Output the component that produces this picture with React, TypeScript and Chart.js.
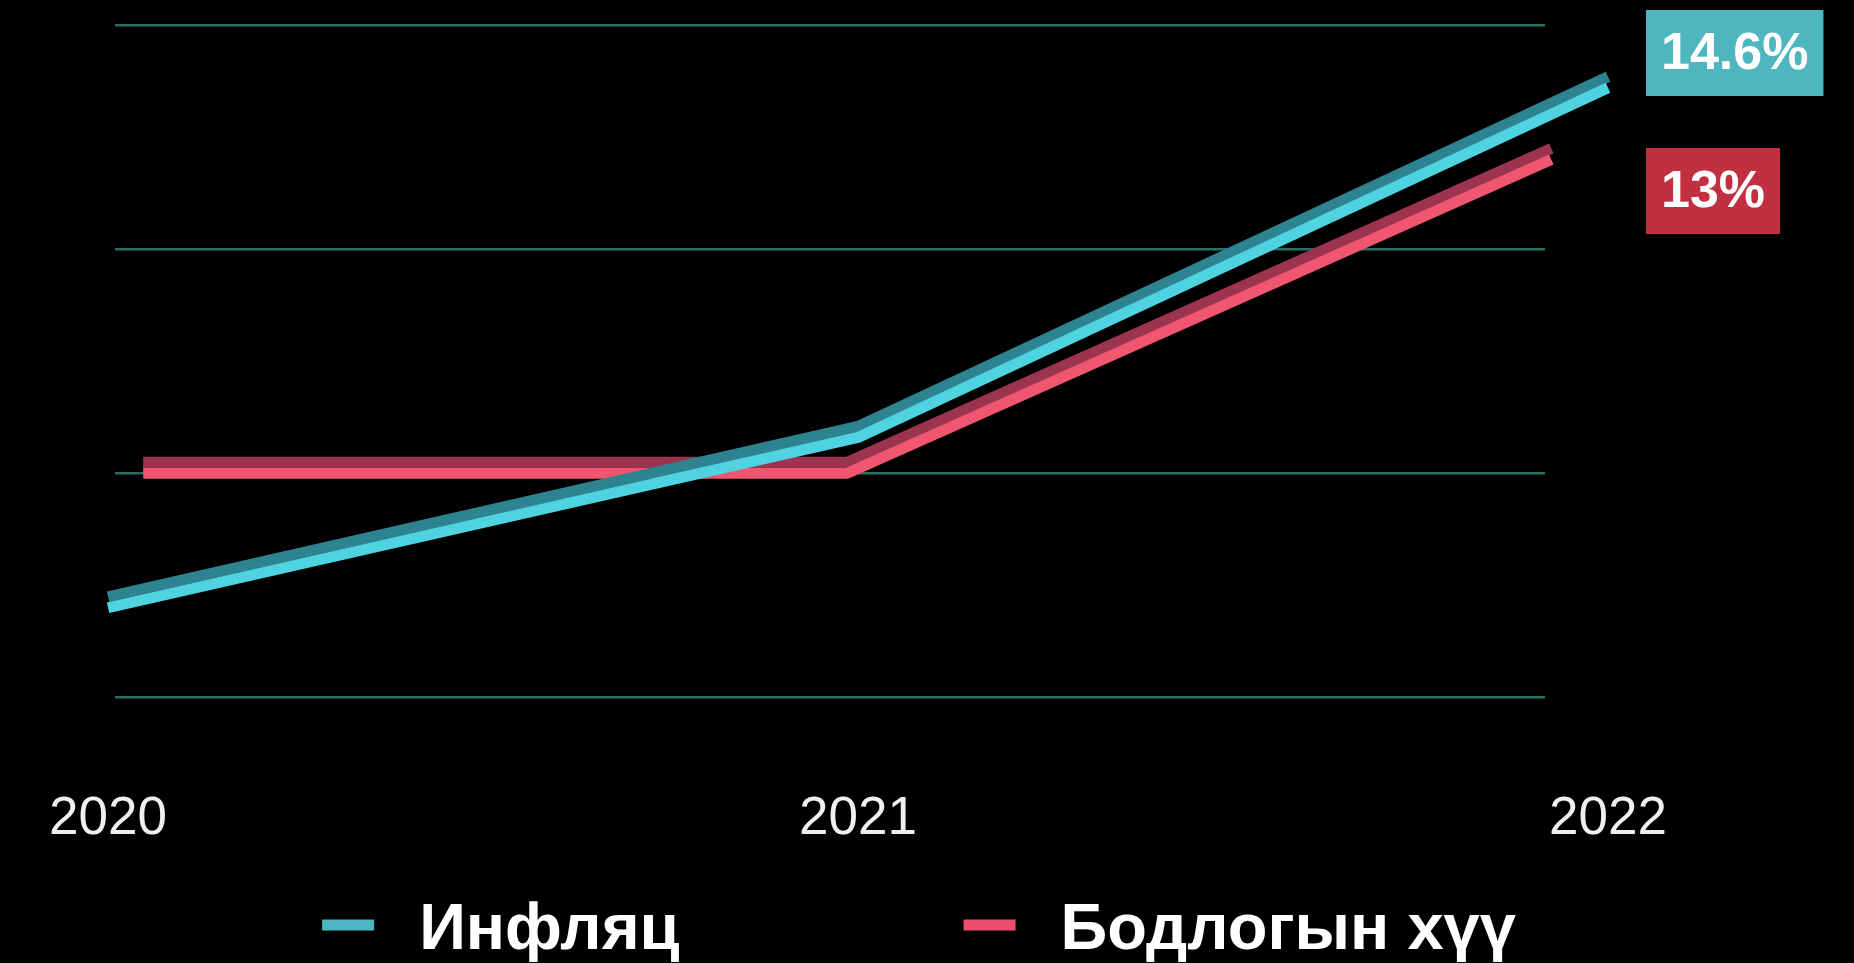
import React, { useEffect, useRef } from "react";
import { Chart, registerables } from "chart.js";

Chart.register(...registerables);

// ---- data ----
const years = [2020, 2021, 2022];
const inflation = [3.0, 6.8, 14.6];
const policyRate = [6, 6, 13];
const gridValues = [1, 6, 11, 16];
const seriesNames = ["Инфляц", "Бодлогын хүү"];

const FONT = '"Liberation Sans", Arial, Helvetica, sans-serif';

// draws each line as a "3D tube": bright front face + darker top face (shadow)
const tubePlugin = {
  id: "tube",
  beforeDatasetDraw(chart: any, args: any) {
    const ds: any = chart.data.datasets[args.index];
    const ctx = chart.ctx;
    ctx.save();
    ctx.shadowColor = ds.topColor;
    ctx.shadowOffsetX = 0;
    ctx.shadowOffsetY = -11;
    ctx.shadowBlur = 0;
  },
  afterDatasetDraw(chart: any) {
    chart.ctx.restore();
  },
};

// value boxes on the right (last value of each series)
const valueBoxPlugin = {
  id: "valueBoxes",
  afterDraw(chart: any, _args: any, opts: any) {
    const ctx = chart.ctx;
    ctx.save();
    ctx.font = `bold ${opts.fontSize}px ${FONT}`;
    chart.data.datasets.forEach((ds: any, i: number) => {
      const last = ds.data[ds.data.length - 1].y;
      const text = `${last}%`;
      const w = ctx.measureText(text).width + opts.padX * 2;
      const top = opts.tops[i];
      ctx.fillStyle = ds.boxColor;
      ctx.fillRect(opts.left, top, w, opts.height);
      ctx.fillStyle = "#ffffff";
      ctx.textBaseline = "middle";
      ctx.textAlign = "left";
      ctx.fillText(text, opts.left + opts.padX, top + opts.height / 2 + 2);
    });
    ctx.restore();
  },
};

// custom bottom legend
const bottomLegendPlugin = {
  id: "bottomLegend",
  afterDraw(chart: any, _args: any, opts: any) {
    const ctx = chart.ctx;
    ctx.save();
    ctx.font = `bold ${opts.fontSize}px ${FONT}`;
    const items = chart.data.datasets.map((ds: any) => ({
      text: ds.label,
      color: ds.legendColor,
      w: ctx.measureText(ds.label).width,
    }));
    const total =
      items.reduce((s: number, it: any) => s + opts.boxWidth + opts.textGap + it.w, 0) +
      opts.itemGap * (items.length - 1);
    let x = (chart.width - total) / 2 + opts.shiftX;
    const base = chart.height - opts.baselineFromBottom;
    items.forEach((it: any) => {
      ctx.fillStyle = it.color;
      ctx.fillRect(x, base - opts.boxOffset - opts.boxHeight / 2, opts.boxWidth, opts.boxHeight);
      x += opts.boxWidth + opts.textGap;
      ctx.fillStyle = "#ffffff";
      ctx.textBaseline = "alphabetic";
      ctx.textAlign = "left";
      ctx.fillText(it.text, x, base);
      x += it.w + opts.itemGap;
    });
    ctx.restore();
  },
};

export default function App() {
  const ref = useRef<HTMLCanvasElement>(null);

  useEffect(() => {
    document.body.style.margin = "0";
    document.body.style.background = "#000";
    document.documentElement.style.background = "#000";

    const toPoints = (vals: number[]) => years.map((yr, i) => ({ x: yr, y: vals[i] }));

    const chart = new Chart(ref.current as HTMLCanvasElement, {
      type: "line",
      data: {
        datasets: [
          {
            label: seriesNames[0],
            data: toPoints(inflation),
            xAxisID: "x",
            borderColor: "#4fd3e1",
            topColor: "#2d8390",
            boxColor: "#4eb6bf",
            legendColor: "#4db6c0",
            borderWidth: 11,
            pointRadius: 0,
            tension: 0,
            clip: false,
            borderJoinStyle: "round",
            borderCapStyle: "butt",
          } as any,
          {
            label: seriesNames[1],
            data: toPoints(policyRate),
            xAxisID: "xr",
            borderColor: "#f0566f",
            topColor: "#9c3450",
            boxColor: "#c22f40",
            legendColor: "#ec4f6e",
            borderWidth: 11,
            pointRadius: 0,
            tension: 0,
            clip: false,
            borderJoinStyle: "round",
            borderCapStyle: "butt",
          } as any,
        ],
      },
      options: {
        responsive: false,
        devicePixelRatio: 1,
        animation: false,
        events: [],
        layout: { padding: { left: 115, right: 309, top: 25, bottom: 105 } },
        plugins: {
          legend: { display: false },
          tooltip: { enabled: false },
          valueBoxes: { left: 1646, tops: [10, 148], height: 86, padX: 15, fontSize: 52 },
          bottomLegend: {
            fontSize: 65,
            boxWidth: 52,
            boxHeight: 11,
            textGap: 45,
            itemGap: 284,
            baselineFromBottom: 14,
            boxOffset: 24,
            shiftX: -8,
          },
        } as any,
        scales: {
          x: {
            type: "linear",
            position: "bottom",
            min: 2020.0093,
            max: 2021.916,
            afterBuildTicks: (axis: any) => {
              axis.ticks = years.map((v) => ({ value: v }));
            },
            grid: { display: false, drawTicks: true, tickLength: 83 },
            border: { display: false },
            ticks: {
              autoSkip: false,
              maxRotation: 0,
              padding: 7,
              color: "#f0f0f0",
              font: { family: FONT, size: 53, weight: "normal" },
              callback: (v: any) => String(v),
            },
          },
          xr: {
            type: "linear",
            display: false,
            min: 2019.96,
            max: 2021.991,
          },
          y: {
            type: "linear",
            min: 1,
            max: 16,
            afterBuildTicks: (axis: any) => {
              axis.ticks = gridValues.map((v) => ({ value: v }));
            },
            grid: { color: "#2b6d69", lineWidth: 2.5, drawTicks: false },
            border: { display: false },
            ticks: { display: false },
          },
        },
      },
      plugins: [tubePlugin, valueBoxPlugin, bottomLegendPlugin],
    });

    return () => chart.destroy();
  }, []);

  return (
    <div style={{ width: 1854, height: 963, background: "#000", overflow: "hidden" }}>
      <canvas ref={ref} width={1854} height={963} style={{ display: "block" }} />
    </div>
  );
}
